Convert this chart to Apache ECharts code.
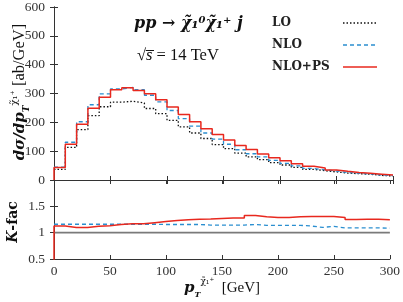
<!DOCTYPE html>
<html><head><meta charset="utf-8">
<script src="https://cdn.jsdelivr.net/npm/echarts@6/dist/echarts.min.js"></script>
<style>html,body{margin:0;padding:0;background:#fff}#c{width:403px;height:302px}</style>
</head><body><div id="c"></div>
<script>
const binEdges = [0,10,20,30,40,50,60,70,80,90,100,110,120,130,140,150,160,170,180,190,200,210,220,230,240,250,260,270,280,290,300];
const lo    = [37,113,175,223,254,270,273,267,248,230,207,184,163,144,123,109,93,80,71,60,52,44,37,32,28,24,22,20,16,14];
const nlo   = [45,131,202,261,299,316,321,313,294,271,241,213,187,163,142,124,105,91,80,68,58,49,40,35,31,26,23,21,17,15];
const nlops = [43,124,193,249,287,313,320,310,299,278,253,227,202,178,158,139,120,106,90,77,67,56,48,42,35,30,26,23,20,17];
const kLo    = [1,1,1,1,1,1,1,1,1,1,1,1,1,1,1,1,1,1,1,1,1,1,1,1,1,1,1,1,1,1];
const kNlo   = [1.16,1.16,1.16,1.16,1.16,1.16,1.16,1.16,1.16,1.155,1.155,1.155,1.155,1.145,1.145,1.145,1.145,1.155,1.14,1.14,1.14,1.14,1.125,1.10,1.12,1.09,1.09,1.09,1.09,1.085];
const kNlops = [1.125,1.10,1.10,1.12,1.13,1.155,1.17,1.17,1.19,1.21,1.23,1.245,1.255,1.26,1.27,1.28,1.28,1.325,1.30,1.29,1.29,1.30,1.305,1.305,1.305,1.29,1.25,1.255,1.255,1.245];
const seriesNames = ['LO','NLO','NLO+PS'];

const SERIF = "'Liberation Serif','DejaVu Serif',serif";
const DV = "'DejaVu Serif',serif";
const cLO = '#111', cNLO = '#2b8fd0', cPS = '#e8281e';
const styLO = {color:cLO, width:1.3, type:[1.5,2]};
const styNLO = {color:cNLO, width:1.3, type:[4,3]};
const stySPS = {color:cPS, width:1.5, type:'solid'};

function stepData(vals, fromZero){
  const d = [];
  if (fromZero) d.push([binEdges[0], 0]);
  vals.forEach((v,i)=>d.push([binEdges[i], v]));
  d.push([binEdges[binEdges.length-1], vals[vals.length-1]]);
  return d;
}

const axisLine = {lineStyle:{color:'#333', width:1}};
const tick = {inside:true, length:4, lineStyle:{color:'#333'}};
const lab = {fontFamily:SERIF, fontSize:13.5, color:'#333'};

function xAx(grid, pos, showLab){
  return {type:'value', gridIndex:grid, position:pos, min:0, max:300, interval:50,
    axisLine:axisLine, axisTick:tick, splitLine:{show:false},
    axisLabel: showLab ? Object.assign({margin:5}, lab) : {show:false}};
}
function yAx(grid, pos, min, max, interval, showLab, fmt){
  return {type:'value', gridIndex:grid, position:pos, min:min, max:max, interval:interval,
    axisLine:axisLine, axisTick:tick, splitLine:{show:false},
    axisLabel: showLab ? Object.assign({margin:9, formatter:fmt}, lab) : {show:false}};
}

const chart = echarts.init(document.getElementById('c'), null, {renderer:'canvas'});
chart.setOption({
  animation:false,
  backgroundColor:'#fff',
  grid:[{left:54, right:10, top:6, height:174}, {left:54, right:10, top:180, height:79}],
  xAxis:[xAx(0,'bottom',false), xAx(0,'top',false), xAx(1,'bottom',true), xAx(1,'top',false)],
  yAxis:[yAx(0,'left',0,600,100,true), yAx(0,'right',0,600,100,false),
         yAx(1,'left',0.5,2,0.5,true,v=>v===2?'':String(v)), yAx(1,'right',0.5,2,0.5,false)],
  series:[
    {name:seriesNames[0], type:'line', step:'end', xAxisIndex:0, yAxisIndex:0, symbol:'none', data:stepData(lo), lineStyle:styLO},
    {name:seriesNames[1], type:'line', step:'end', xAxisIndex:0, yAxisIndex:0, symbol:'none', data:stepData(nlo), lineStyle:styNLO},
    {name:seriesNames[2], type:'line', step:'end', xAxisIndex:0, yAxisIndex:0, symbol:'none', data:stepData(nlops,true), lineStyle:stySPS},
    {name:'K LO', type:'line', step:'end', xAxisIndex:2, yAxisIndex:2, symbol:'none', data:stepData(kLo), lineStyle:{color:'#7a7a7a', width:1.6}},
    {name:'K NLO', type:'line', step:'end', xAxisIndex:2, yAxisIndex:2, symbol:'none', data:stepData(kNlo), lineStyle:styNLO},
    {name:'K NLO+PS', type:'line', step:'end', xAxisIndex:2, yAxisIndex:2, symbol:'none', data:stepData(kNlops,true), lineStyle:stySPS}
  ],
  graphic:[
    {type:'text', x:20, y:92, rotation:Math.PI/2, style:{
      text:'{bi|dσ/dp}{sub|T}{sup|χ̃₁⁺}{r| [ab/GeV]}', align:'center', verticalAlign:'middle',
      rich:{bi:{fontFamily:DV, fontStyle:'italic', fontWeight:'bold', fontSize:15, lineHeight:22, verticalAlign:'middle', fill:'#111'},
            sub:{fontFamily:DV, fontStyle:'italic', fontWeight:'bold', fontSize:9, verticalAlign:'bottom', lineHeight:22, fill:'#111'},
            sup:{fontFamily:DV, fontSize:10, verticalAlign:'top', lineHeight:22, fill:'#111'},
            r:{fontFamily:SERIF, fontSize:16.5, lineHeight:22, verticalAlign:'middle', fill:'#111'}}}},
    {type:'text', x:13, y:222, rotation:Math.PI/2, style:{
      text:'{k|K}{r|-fac}', align:'center', verticalAlign:'middle',
      rich:{k:{fontFamily:DV, fontStyle:'italic', fontWeight:'bold', fontSize:14, fill:'#111'},
            r:{fontFamily:DV, fontWeight:'bold', fontSize:14, fill:'#111'}}}},
    {type:'text', x:222, y:288, style:{
      text:'{bi|p}{sub|T}{sup|χ̃₁⁺}{r|  [GeV]}', align:'center', verticalAlign:'middle',
      rich:{bi:{fontFamily:DV, fontStyle:'italic', fontWeight:'bold', fontSize:15, lineHeight:22, verticalAlign:'middle', fill:'#111'},
            sub:{fontFamily:DV, fontStyle:'italic', fontWeight:'bold', fontSize:8, verticalAlign:'bottom', lineHeight:22, fill:'#111'},
            sup:{fontFamily:DV, fontSize:9, verticalAlign:'top', lineHeight:22, fill:'#111'},
            r:{fontFamily:SERIF, fontSize:15, lineHeight:22, verticalAlign:'middle', fill:'#111'}}}},
    {type:'text', x:134, y:24, style:{text:'pp → χ̃₁⁰χ̃₁⁺ j', align:'left', verticalAlign:'middle',
      fontFamily:DV, fontStyle:'italic', fontWeight:'bold', fontSize:16, fill:'#111'}},
    {type:'text', x:137, y:56, style:{text:'{r|√}{i|s̅}{r| = 14 TeV}', align:'left', verticalAlign:'middle',
      rich:{r:{fontFamily:SERIF, fontSize:16.5, fill:'#111'}, i:{fontFamily:SERIF, fontStyle:'italic', fontSize:16.5, fill:'#111'}}}},
    {type:'text', x:272, y:23, style:{text:seriesNames[0], align:'left', verticalAlign:'middle', fontFamily:DV, fontWeight:'bold', fontSize:12, fill:'#222'}},
    {type:'text', x:272, y:45, style:{text:seriesNames[1], align:'left', verticalAlign:'middle', fontFamily:DV, fontWeight:'bold', fontSize:12, fill:'#222'}},
    {type:'text', x:272, y:67, style:{text:seriesNames[2], align:'left', verticalAlign:'middle', fontFamily:DV, fontWeight:'bold', fontSize:12, fill:'#222'}},
    {type:'line', shape:{x1:343, y1:23, x2:377, y2:23}, style:{stroke:cLO, lineWidth:1.3, lineDash:[1.5,2]}},
    {type:'line', shape:{x1:343, y1:45, x2:377, y2:45}, style:{stroke:cNLO, lineWidth:1.3, lineDash:[4,3]}},
    {type:'line', shape:{x1:343, y1:67, x2:377, y2:67}, style:{stroke:cPS, lineWidth:1.5}}
  ]
});
</script></body></html>
